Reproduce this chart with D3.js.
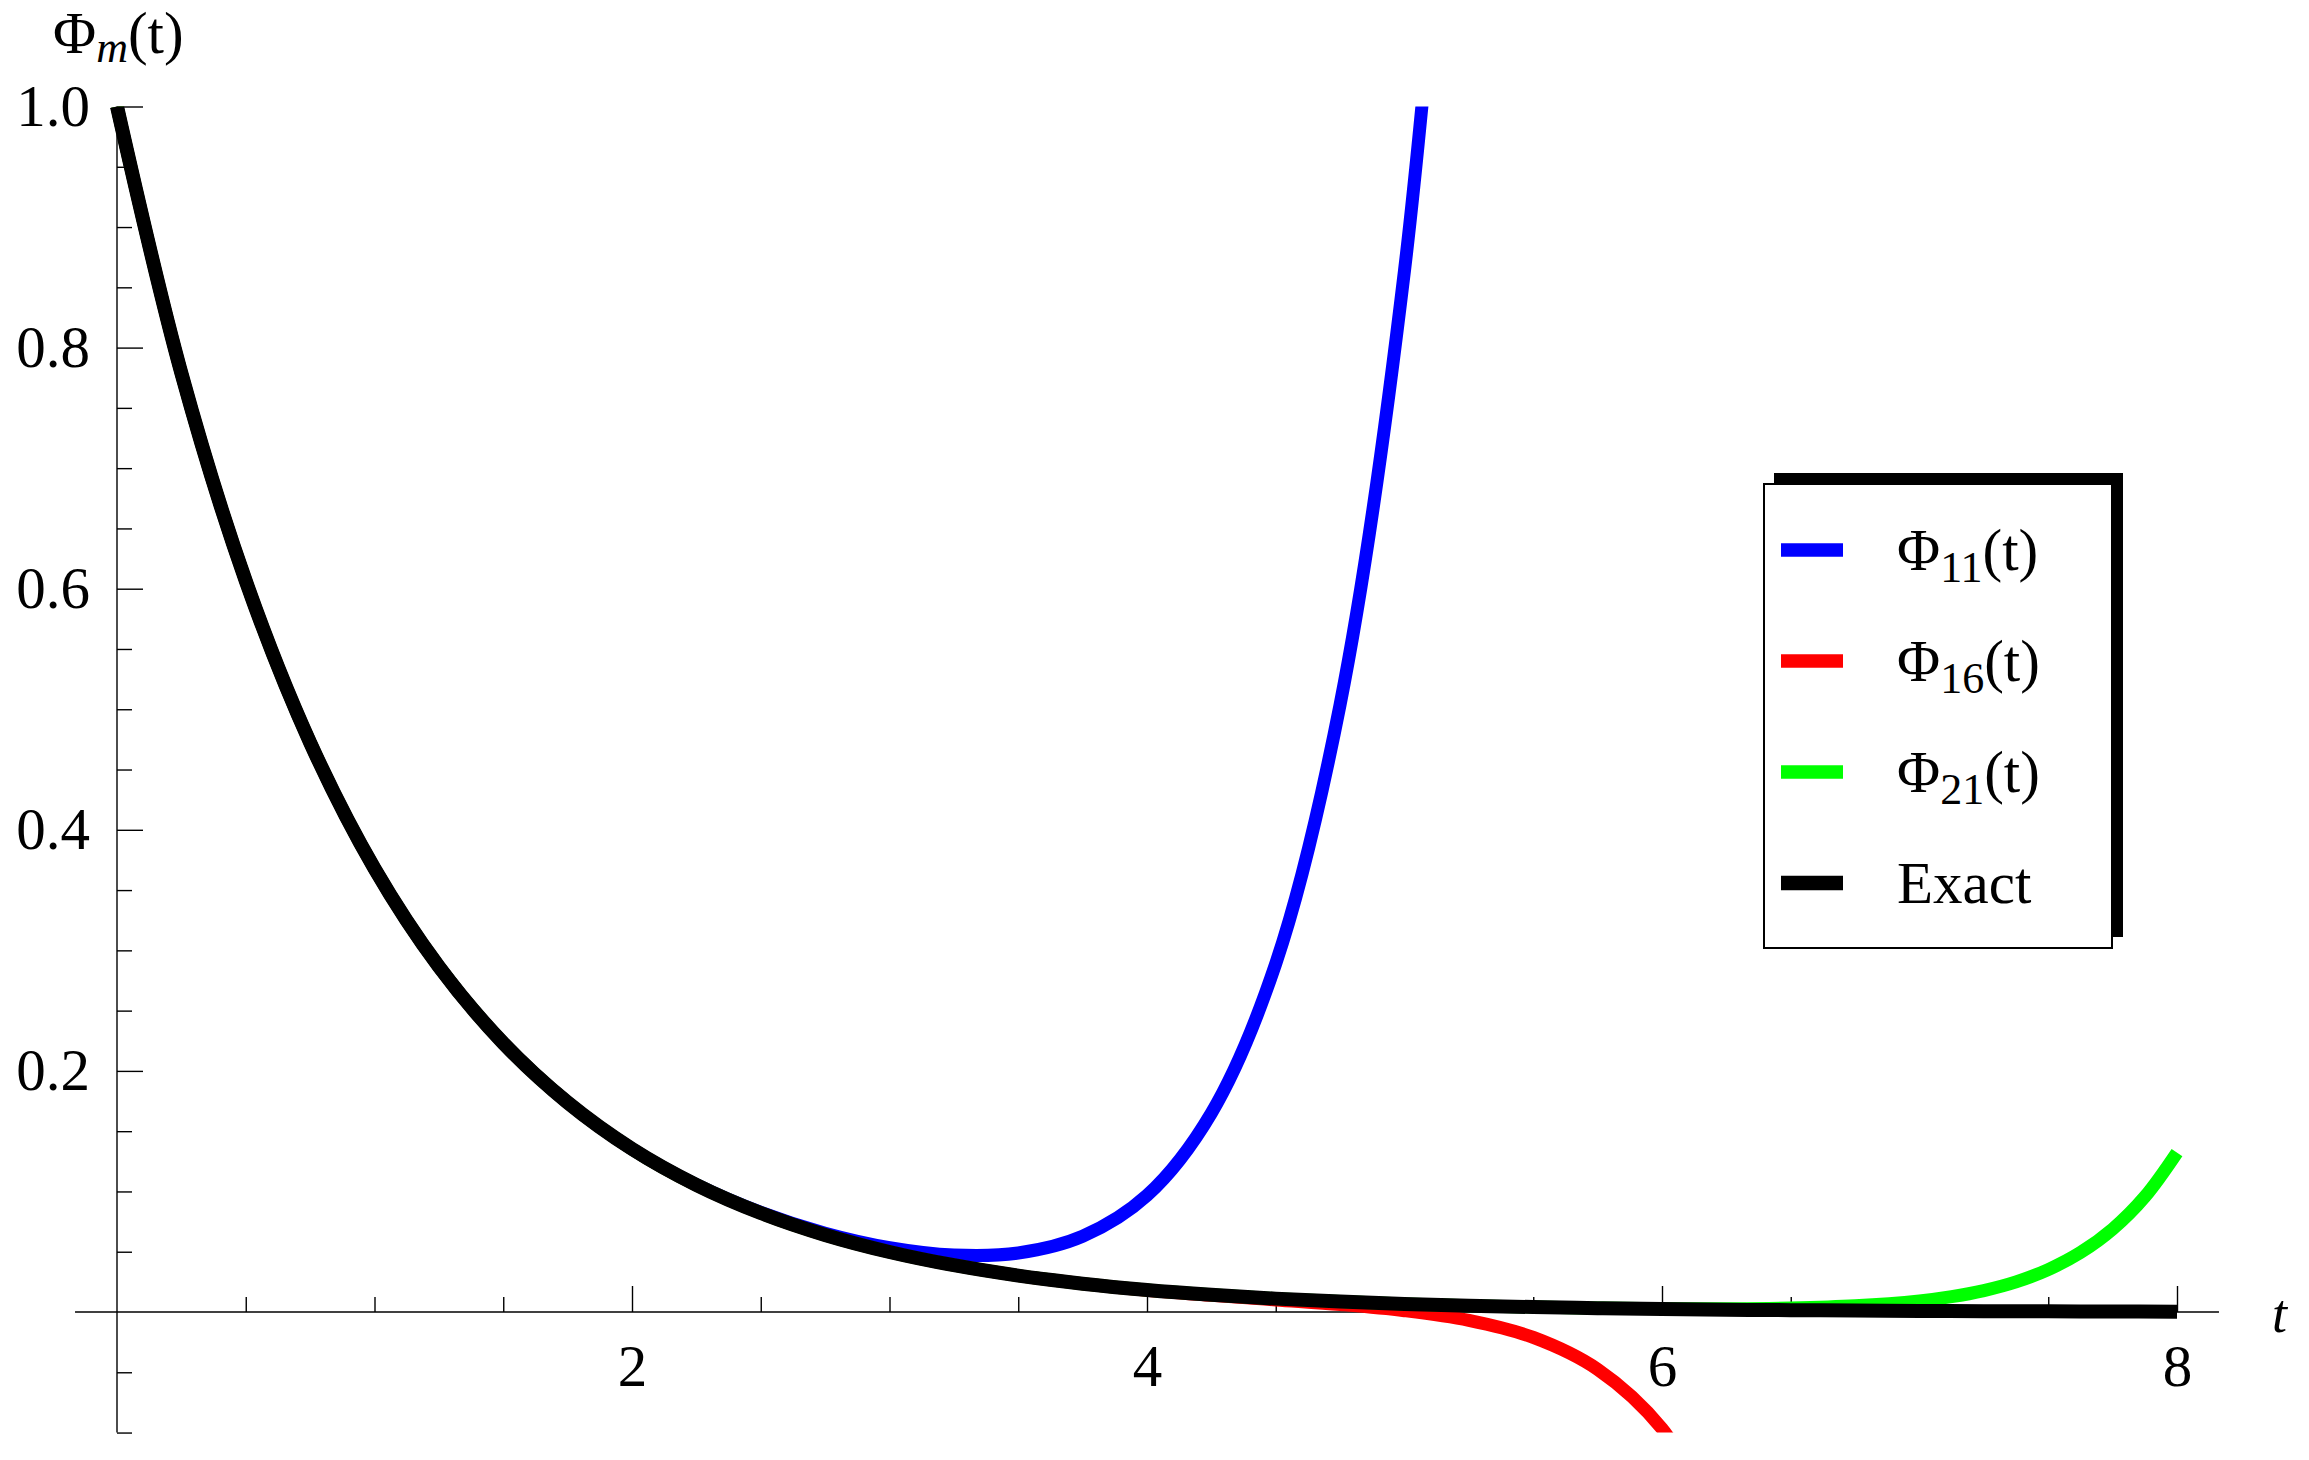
<!DOCTYPE html>
<html>
<head>
<meta charset="utf-8">
<script src="https://cdn.jsdelivr.net/npm/d3@7"></script>
<style>
  body { margin: 0; background: #fff; }
  svg { display: block; }
  text { font-family: "Liberation Serif", "Times New Roman", serif; fill: #000; }
</style>
</head>
<body>
<div id="chart"></div>
<script>
// Sample times, shared by most of the curves
const tValues = [0, 0.25, 0.5, 0.75, 1, 1.25, 1.5, 1.75, 2, 2.25, 2.5, 2.75, 3, 3.25, 3.5, 3.75,
                 4, 4.25, 4.5, 4.75, 5, 5.25, 5.5, 5.75, 6, 6.25, 6.5, 6.75, 7, 7.25, 7.5, 7.75, 8];
// Phi21 bends sharply at the end, so its tail is read more finely
const phi21Times = [0, 0.25, 0.5, 0.75, 1, 1.25, 1.5, 1.75, 2, 2.25, 2.5, 2.75, 3, 3.25, 3.5, 3.75,
                    4, 4.25, 4.5, 4.75, 5, 5.25, 5.5, 5.75, 6, 6.25, 6.5, 6.75, 7,
                    7.125, 7.25, 7.375, 7.5, 7.625, 7.75, 7.875, 8];

// Values (each array starts at t = 0)
const exactValues = [1, 0.7788, 0.6065, 0.4724, 0.3679, 0.2865, 0.2231, 0.1738, 0.1353, 0.1054, 0.0821,
                     0.0639, 0.0498, 0.0388, 0.0302, 0.0235, 0.0183, 0.0143, 0.0111, 0.0087, 0.0067,
                     0.0052, 0.0041, 0.0032, 0.0025, 0.0019, 0.0015, 0.0012, 0.0009, 0.0007, 0.0006,
                     0.0004, 0.0003];
const phi11Values = [1, 0.7788, 0.6065, 0.4724, 0.3679, 0.2865, 0.2231, 0.1738, 0.1353, 0.1056, 0.0826,
                     0.0653, 0.0533, 0.0472, 0.0489, 0.0628, 0.0967, 0.165, 0.289, 0.504, 0.864, 1.445];
const phi16Values = [1, 0.7788, 0.6065, 0.4724, 0.3679, 0.2865, 0.2231, 0.1738, 0.1353, 0.1054, 0.0821,
                     0.0639, 0.0498, 0.0388, 0.0302, 0.0235, 0.0181, 0.0139, 0.0100, 0.0062, 0.0011,
                     -0.0069, -0.0211, -0.0476, -0.0968, -0.186];
const phi21Values = [1, 0.7788, 0.6065, 0.4724, 0.3679, 0.2865, 0.2231, 0.1738, 0.1353, 0.1054, 0.0821,
                     0.0639, 0.0498, 0.0388, 0.0302, 0.0235, 0.0183, 0.0143, 0.0111, 0.0087, 0.0067,
                     0.0052, 0.0041, 0.0033, 0.0028, 0.0027, 0.0033, 0.0051, 0.0092,
                     0.0127, 0.0178, 0.0250, 0.0352, 0.0493, 0.0688, 0.0956, 0.1323];

// Legend entries
const legendSubs = ["11", "16", "21", null];
const legendColors = ["#0000ff", "#ff0000", "#00ff00", "#000000"];

// Ticks
const xMajorTicks = [2, 4, 6, 8];
const xMinorTicks = [0.5, 1, 1.5, 2.5, 3, 3.5, 4.5, 5, 5.5, 6.5, 7, 7.5];
const yMajorTicks = [0.2, 0.4, 0.6, 0.8, 1.0];
const yMinorTicks = [-0.1, -0.05, 0.05, 0.1, 0.15, 0.25, 0.3, 0.35, 0.45, 0.5, 0.55,
                     0.65, 0.7, 0.75, 0.85, 0.9, 0.95];

const W = 2309, H = 1460;
const fontSize = 59;

const svg = d3.select("#chart")
  .append("svg")
    .attr("width", W)
    .attr("height", H);

svg.append("rect").attr("width", W).attr("height", H).attr("fill", "#fff");

// Scales
const x = d3.scaleLinear().domain([0, 8]).range([117, 2177]);
const y = d3.scaleLinear().domain([0, 1]).range([1312, 106.5]);
const xExtent = [-0.163, 8.163];
const yExtent = [-0.1, 1.0];

// Axis lines
svg.append("line")
    .attr("x1", x(xExtent[0])).attr("x2", x(xExtent[1]))
    .attr("y1", y(0)).attr("y2", y(0))
    .attr("stroke", "#000").attr("stroke-width", 1.4);
svg.append("line")
    .attr("x1", x(0)).attr("x2", x(0))
    .attr("y1", y(yExtent[0])).attr("y2", y(yExtent[1]))
    .attr("stroke", "#000").attr("stroke-width", 1.4);

function styleAxis(g) {
  g.select(".domain").remove();
  g.selectAll("line").attr("stroke-width", 1.4);
  g.attr("font-size", fontSize).attr("font-family", null);
}

// x axis: ticks point up, labels below
svg.append("g")
    .attr("transform", `translate(0,${y(0)})`)
    .call(d3.axisBottom(x).tickValues(xMinorTicks).tickSize(-15).tickFormat(""))
    .call(styleAxis);
svg.append("g")
    .attr("transform", `translate(0,${y(0)})`)
    .call(d3.axisBottom(x).tickValues(xMajorTicks).tickSize(-26).tickPadding(32).tickFormat(d3.format("d")))
    .call(styleAxis);

// y axis: ticks point right, labels left
svg.append("g")
    .attr("transform", `translate(${x(0)},0)`)
    .call(d3.axisLeft(y).tickValues(yMinorTicks).tickSize(-15).tickFormat(""))
    .call(styleAxis);
svg.append("g")
    .attr("transform", `translate(${x(0)},0)`)
    .call(d3.axisLeft(y).tickValues(yMajorTicks).tickSize(-26).tickPadding(27).tickFormat(d3.format(".1f")))
    .call(styleAxis);

// Axis labels
const yLabel = svg.append("text").attr("x", 53).attr("y", 53).attr("font-size", fontSize);
yLabel.append("tspan").text("Φ");
yLabel.append("tspan").attr("font-size", 44).attr("font-style", "italic").attr("dy", 9).text("m");
yLabel.append("tspan").attr("dy", -9).text("(t)");

svg.append("text")
    .attr("x", 2272).attr("y", 1332)
    .attr("font-size", 54)
    .attr("font-style", "italic")
    .text("t");

// Curves
svg.append("clipPath").attr("id", "plot-clip")
  .append("rect")
    .attr("x", x(xExtent[0])).attr("y", y(yExtent[1]))
    .attr("width", x(xExtent[1]) - x(xExtent[0]))
    .attr("height", y(yExtent[0]) - y(yExtent[1]));

const line = d3.line()
    .x(d => x(d[0]))
    .y(d => y(d[1]))
    .curve(d3.curveCatmullRom.alpha(0.5));

const series = [
  { times: tValues, values: phi11Values, color: legendColors[0], width: 13 },
  { times: tValues, values: phi16Values, color: legendColors[1], width: 13 },
  { times: phi21Times, values: phi21Values, color: legendColors[2], width: 13 },
  { times: tValues, values: exactValues, color: legendColors[3], width: 14 }
];

svg.append("g")
    .attr("clip-path", "url(#plot-clip)")
  .selectAll("path")
  .data(series)
  .enter()
  .append("path")
    .attr("fill", "none")
    .attr("stroke", d => d.color)
    .attr("stroke-width", d => d.width)
    .attr("stroke-linecap", "butt")
    .attr("stroke-linejoin", "round")
    .attr("d", d => line(d.values.map((v, i) => [d.times[i], v])));

// Legend with drop shadow
const lg = svg.append("g");
lg.append("rect")
    .attr("x", 1774).attr("y", 473).attr("width", 349).attr("height", 464)
    .attr("fill", "#000");
lg.append("rect")
    .attr("x", 1764).attr("y", 484).attr("width", 348).attr("height", 464)
    .attr("fill", "#fff").attr("stroke", "#000").attr("stroke-width", 2);

const rowY = d3.scaleLinear().domain([0, 3]).range([550, 883]);

legendSubs.forEach((sub, i) => {
  lg.append("line")
      .attr("x1", 1781).attr("x2", 1843)
      .attr("y1", rowY(i)).attr("y2", rowY(i))
      .attr("stroke", legendColors[i])
      .attr("stroke-width", i === 3 ? 14.5 : 13.5);
  const txt = lg.append("text")
      .attr("x", 1897).attr("y", rowY(i) + 20)
      .attr("font-size", fontSize);
  if (sub) {
    txt.append("tspan").text("Φ");
    txt.append("tspan").attr("font-size", 44).attr("dy", 12).text(sub);
    txt.append("tspan").attr("dy", -12).text("(t)");
  } else {
    txt.text("Exact");
  }
});
</script>
</body>
</html>
